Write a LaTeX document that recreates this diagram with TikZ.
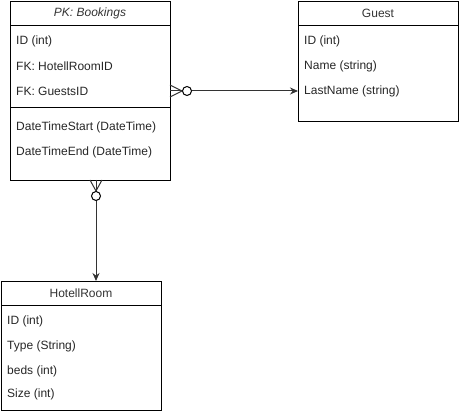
\documentclass[tikz,border=0pt]{standalone}
\usepackage{fontspec}
\setmainfont{Liberation Sans}
\usetikzlibrary{arrows.meta}
\begin{document}
\begin{tikzpicture}[x=1pt,y=-1pt,
  entity/.style={draw=black,line width=1pt,anchor=north west,inner sep=0pt,minimum width=160pt},
  sepline/.style={draw=black,line width=1pt},
  title/.style={font=\fontsize{12}{14}\selectfont,text=black!80,inner sep=0pt},
  row/.style={font=\fontsize{12}{14}\selectfont,text=black!85,anchor=west,inner sep=0pt},
  conn/.style={draw=black!80,line width=1pt},
  arr/.style={-{Stealth[length=8pt,width=7pt]}},
  ring/.style={draw=black,line width=1pt,fill=white,circle,inner sep=0pt,minimum size=9pt}]
\useasboundingbox (0,0) rectangle (459,411);
% Bookings
\node[entity,minimum height=179pt] (book) at (10,1) {};
\draw[sepline] (10,26) -- (170,26);
\draw[sepline] (10,108) -- (170,108);
\node[title] (bookT) at (90,13.5) {\itshape PK: Bookings};
\node[row] (b1) at (16,41) {ID (int)};
\node[row] (b2) at (16,66) {FK: HotellRoomID};
\node[row] (b3) at (16,91) {FK: GuestsID};
\node[row] (b4) at (16,127) {DateTimeStart (DateTime)};
\node[row] (b5) at (16,152) {DateTimeEnd (DateTime)};
% Guest
\node[entity,minimum height=120pt] (guest) at (298,1) {};
\draw[sepline] (298,26) -- (458,26);
\node[title] (guestT) at (378,13.5) {Guest};
\node[row] (g1) at (304,41) {ID (int)};
\node[row] (g2) at (304,66) {Name (string)};
\node[row] (g3) at (304,91) {LastName (string)};
% HotellRoom
\node[entity,minimum height=129pt] (room) at (1,281) {};
\draw[sepline] (1,306) -- (161,306);
\node[title] (roomT) at (81,293.5) {HotellRoom};
\node[row] (r1) at (7,321) {ID (int)};
\node[row] (r2) at (7,346) {Type (String)};
\node[row] (r3) at (7,371) {beds (int)};
\node[row] (r4) at (7,394) {Size (int)};
% connector Bookings -> Guest
\coordinate (c1s) at (170,91);
\coordinate (c1e) at (298,91);
\draw[conn,arr] (c1s) -- (c1e);
\draw[conn] (170,85) -- (182,91) -- (170,97);
\node[ring] (c1r) at (187,91) {};
% connector Bookings -> HotellRoom
\coordinate (c2s) at (96,180);
\coordinate (c2e) at (96,281);
\draw[conn,arr] (c2s) -- (c2e);
\draw[conn] (90,180) -- (96,191) -- (102,180);
\node[ring] (c2r) at (96,196) {};
\end{tikzpicture}
\end{document}
